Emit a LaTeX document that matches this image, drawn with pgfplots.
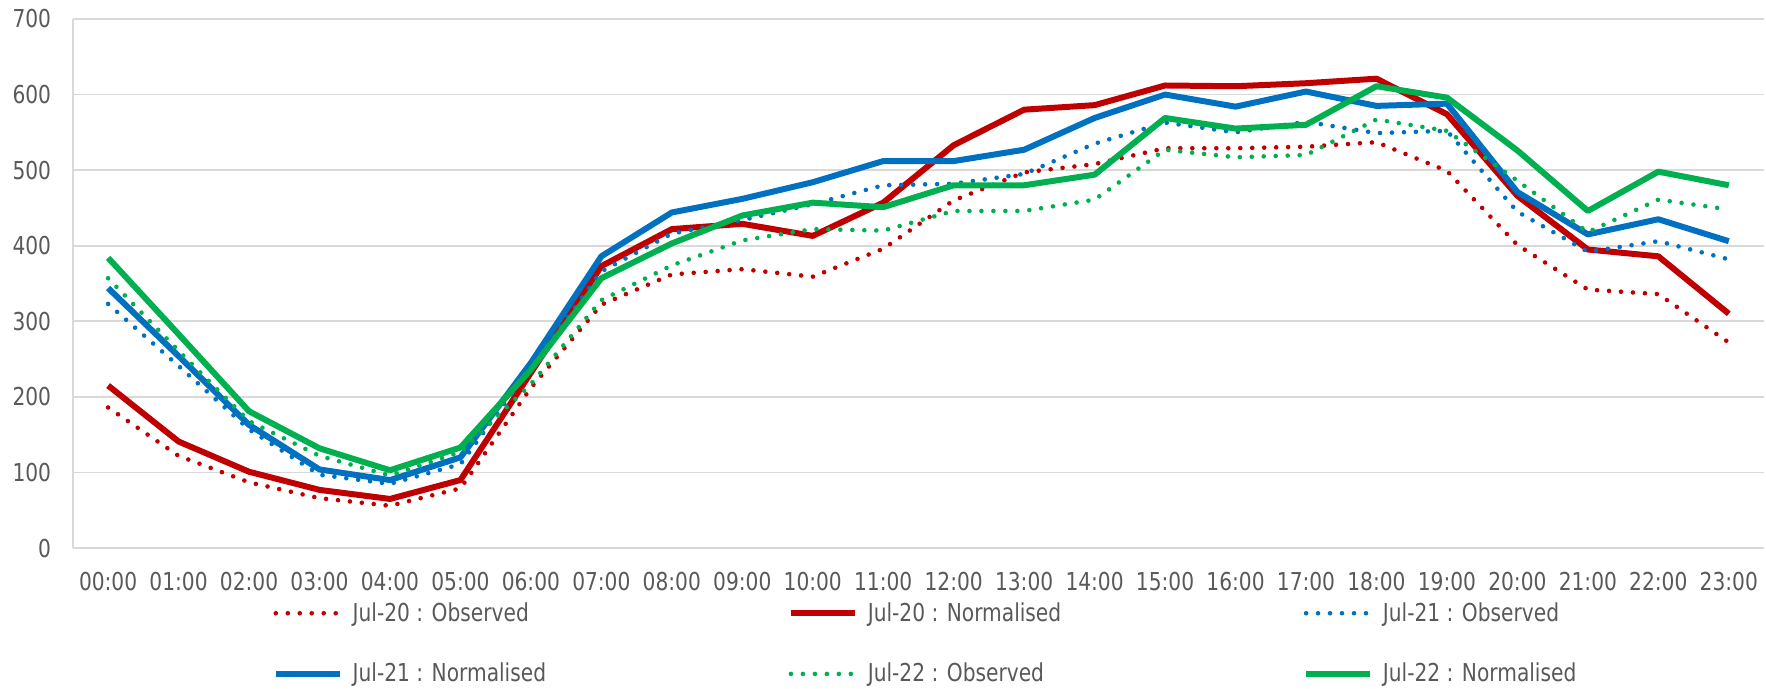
\documentclass[border=0pt]{standalone}
\usepackage{fontspec}
\setmainfont{DejaVu Sans Condensed}[FakeStretch=0.91]
\usepackage{pgfplots}
\usepackage{pgfplotstable}
\pgfplotsset{compat=1.18}
\definecolor{cRed}{HTML}{C00000}
\definecolor{cBlue}{HTML}{0070C0}
\definecolor{cGreen}{HTML}{00B050}
\definecolor{cGrid}{HTML}{D9D9D9}
\definecolor{cText}{HTML}{595959}

% hourly values
\pgfplotstableread{
h  robs rnorm bobs bnorm gobs gnorm
0  186  215   323  344   357  384
1  122  141   241  254   261  283
2  87   101   157  163   168  181
3  66   77    97   104   122  132
4  56   65    85   90    96   103
5  79   90    111  120   127  133
6  212  232   239  245   217  236
7  322  373   366  386   328  357
8  362  422   416  444   374  403
9  369  429   434  462   407  440
10 359  413   455  484   422  457
11 396  457   480  512   420  451
12 460  533   482  512   446  480
13 497  580   495  527   446  480
14 508  586   535  569   461  494
15 529  612   563  600   527  569
16 529  611   550  584   517  555
17 531  615   564  604   520  560
18 537  621   549  585   567  611
19 499  574   552  588   552  596
20 401  466   445  471   486  526
21 342  395   392  415   418  446
22 336  386   406  435   461  498
23 272  310   382  406   448  480
}\loadtable

\begin{document}
\begin{tikzpicture}[font=\fontsize{12.35pt}{14.5pt}\selectfont, text=cText]
\begin{axis}[
  scale only axis,
  width=847pt, height=265pt,
  xmin=-0.5, xmax=23.5, ymin=0, ymax=700,
  xtick={0,...,23},
  xticklabels={00:00,01:00,02:00,03:00,04:00,05:00,06:00,07:00,08:00,09:00,10:00,11:00,12:00,13:00,14:00,15:00,16:00,17:00,18:00,19:00,20:00,21:00,22:00,23:00},
  ytick={0,100,...,700},
  major tick length=0pt,
  every non boxed x axis/.style={},
  every non boxed y axis/.style={},
  axis x line*=bottom, axis y line*=left,
  axis line style={cGrid, line width=0.9pt, -},
  ymajorgrids, grid style={cGrid, line width=0.9pt},
  xticklabel style={yshift=-8.5pt},
  yticklabel style={xshift=-7.4pt},
  tick label style={text=cText},
  /pgf/number format/assume math mode=true,
  legend columns=3,
  legend style={at={(0.118,0)}, anchor=north west, yshift=-25pt,
    draw=none, fill=none, inner sep=0pt, row sep=15.5pt,
    nodes={inner sep=2pt, anchor=west, text=cText},
    /tikz/every odd column/.style={column sep=3pt},
    /tikz/every even column/.style={column sep=0pt}},
  legend image code/.code={\draw[#1] (0pt,0pt) -- (32pt,0pt);},
  obs/.style={line width=2.3pt, dash pattern=on 0pt off 6pt, line cap=round},
  norm/.style={line width=3pt, line join=round},
]
\addplot[cRed, obs] table[x=h, y=robs] {\loadtable};
\addlegendentry{\makebox[216pt][l]{Jul-20 : Observed}}
\addplot[cRed, norm] table[x=h, y=rnorm] {\loadtable};
\addlegendentry{\makebox[216pt][l]{Jul-20 : Normalised}}
\addplot[cBlue, obs] table[x=h, y=bobs] {\loadtable};
\addlegendentry{Jul-21 : Observed}
\addplot[cBlue, norm] table[x=h, y=bnorm] {\loadtable};
\addlegendentry{\makebox[216pt][l]{Jul-21 : Normalised}}
\addplot[cGreen, obs] table[x=h, y=gobs] {\loadtable};
\addlegendentry{\makebox[216pt][l]{Jul-22 : Observed}}
\addplot[cGreen, norm] table[x=h, y=gnorm] {\loadtable};
\addlegendentry{Jul-22 : Normalised}
\end{axis}
\path (current axis.south west) ++(-36.5pt,-67pt);
\path (current axis.north east) ++(1pt,9.5pt);
\end{tikzpicture}
\end{document}
